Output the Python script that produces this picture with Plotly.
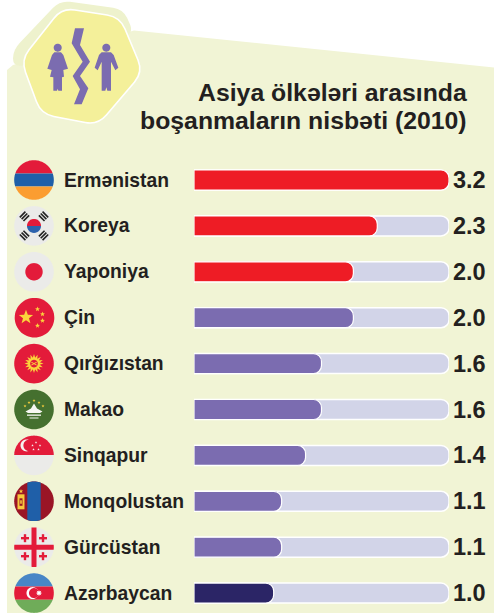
import math
import plotly.graph_objects as go

W, H = 502, 613
categories = ["Ermənistan", "Koreya", "Yaponiya", "Çin", "Qırğızıstan",
              "Makao", "Sinqapur", "Monqolustan", "Gürcüstan", "Azərbaycan"]
values = [3.2, 2.3, 2.0, 2.0, 1.6, 1.6, 1.4, 1.1, 1.1, 1.0]
labels = ["3.2", "2.3", "2.0", "2.0", "1.6", "1.6", "1.4", "1.1", "1.1", "1.0"]
track = [3.2] * 10
RED, PUR, NAVY = "#ee1c25", "#7b6cb0", "#2b2566"
bar_colors = [RED, RED, RED, PUR, PUR, PUR, PUR, PUR, PUR, NAVY]
title_lines = ["Asiya ölkələri arasında", "boşanmaların nisbəti (2010)"]

FIRST, STEP = 180.0, 45.9
FONT = "Liberation Sans"
INK = "#231f20"
shapes = []


def P(x, y):
    return f"{x/W:.5f},{1-y/H:.5f}"


def poly(pts, fill, line=None, lw=0):
    d = "M" + "L".join(P(*p) for p in pts) + "Z"
    shapes.append(dict(type="path", path=d, xref="paper", yref="paper", fillcolor=fill,
                       line=dict(color=line or fill, width=lw), layer="below"))


def rounded(pts, r, fill, line=None, lw=0):
    n = len(pts)
    d = ""
    for i in range(n):
        p0, p1, p2 = pts[i-1], pts[i], pts[(i+1) % n]
        def toward(a, b):
            L = math.dist(a, b)
            t = min(r / L, .5)
            return (a[0]+(b[0]-a[0])*t, a[1]+(b[1]-a[1])*t)
        a, b = toward(p1, p0), toward(p1, p2)
        d += ("M" if i == 0 else "L") + P(*a) + "Q" + P(*p1) + " " + P(*b)
    d += "Z"
    shapes.append(dict(type="path", path=d, xref="paper", yref="paper", fillcolor=fill,
                       line=dict(color=line or fill, width=lw), layer="below"))


def circle(cx, cy, r, fill):
    poly([(cx+r*math.cos(t*math.pi/30), cy+r*math.sin(t*math.pi/30)) for t in range(60)], fill)


def clip_band(cx, cy, r, a0, a1, fill, vertical=False):
    a0, a1 = max(a0, -r), min(a1, r)
    t0, t1 = math.asin(a0/r), math.asin(a1/r)
    N = 24
    right = [t0+(t1-t0)*i/N for i in range(N+1)]
    pts = [(r*math.cos(t), r*math.sin(t)) for t in right]
    pts += [(-r*math.cos(t), r*math.sin(t)) for t in reversed(right)]
    if vertical:
        pts = [(cx+b, cy+a) for a, b in pts]
    else:
        pts = [(cx+a, cy+b) for a, b in pts]
    poly(pts, fill)


def star(cx, cy, R, fill, n=5, rot=-90, ratio=.42):
    pts = []
    for i in range(2*n):
        rr = R if i % 2 == 0 else R*ratio
        t = math.radians(rot + i*180/n)
        pts.append((cx+rr*math.cos(t), cy+rr*math.sin(t)))
    poly(pts, fill)


def rect(x0, y0, x1, y1, fill):
    poly([(x0, y0), (x1, y0), (x1, y1), (x0, y1)], fill)


def rot_rect(cx, cy, w, h, ang, fill):
    c, s = math.cos(ang), math.sin(ang)
    pts = [(cx+a*c-b*s, cy+a*s+b*c) for a, b in
           [(-w/2, -h/2), (w/2, -h/2), (w/2, h/2), (-w/2, h/2)]]
    poly(pts, fill)


def z(pts):
    return [(x/3, y/3) for x, y in pts]


# panel
PANEL = "#f1f4d5"
poly([(7, 613), (7, 70), (13, 65), (134, 30.5), (494, 67.5), (494, 613)], PANEL)
# badge
rounded([(60, 0.5), (123, 9), (134, 33), (60, 60), (13, 67), (13, 50)], 10, "#eef2cd")
rounded([(62, 8), (120, 17), (143, 72), (98, 125), (41, 114), (21, 60)], 13, "#f4f09a", "#ffffff", 1.6)
purple = "#7b6cb0"
circle(57.7, 47.7, 4, purple)
poly(z([(163, 157), (183, 157), (190, 165), (204, 206), (190, 210), (192, 230), (186, 232), (186, 272), (175, 272),
        (173, 266), (171, 272), (160, 272), (160, 232), (150, 230), (155, 210), (142, 206), (156, 165)]), purple)
circle(106.3, 47.7, 4, purple)
poly(z([(305, 157), (333, 157), (341, 165), (355, 203), (346, 211), (333, 185), (333, 272), (322, 272), (319, 262),
        (316, 272), (305, 272), (305, 185), (293, 211), (284, 203), (297, 165)]), purple)
poly(z([(225, 85), (252, 85), (240, 135), (270, 185), (240, 228), (265, 265), (245, 313), (222, 313),
        (240, 268), (218, 228), (248, 185), (215, 130)]), purple)

# flags
CX, R = 34.0, 19.8
FR = "#e31b3a"
GREY = "#ebebe9"
cys = [FIRST + STEP*i for i in range(10)]

# Armenia
y = cys[0]
clip_band(CX, y, R, -R, -6.6, FR)
clip_band(CX, y, R, -6.6, 6.6, "#1f5fa8")
clip_band(CX, y, R, 6.6, R, "#fb9d31")

# Korea
y = cys[1]
circle(CX, y, R, GREY)
clip_band(CX, y, 7, -7, 0, FR)
clip_band(CX, y, 7, 0, 7, "#2d62ad")
for sx, sy in [(-1, -1), (1, -1), (-1, 1), (1, 1)]:
    ang = math.atan2(sy, sx) + math.pi/2
    for k in (-2.6, 0, 2.6):
        d = 13.5 + k
        rot_rect(CX+sx*d*.707, y+sy*d*.707, 8, 1.6, ang, "#222222")

# Japan
y = cys[2]
circle(CX, y, R, GREY)
circle(CX, y, 8.7, FR)

# China
y = cys[3]
circle(CX+.5, y, R, FR)
YEL = "#fbd43b"
star(CX-8, y-.5, 7.5, YEL)
for dx, dy in [(3.5, -8.5), (8.5, -3.5), (8.5, 3), (3.5, 8)]:
    star(CX+dx, y+dy, 2.6, YEL)

# Kyrgyzstan
y = cys[4]
circle(CX, y, R, FR)
for i in range(16):
    t = i*math.pi/8
    poly([(CX+9.5*math.cos(t), y+9.5*math.sin(t)),
          (CX+5*math.cos(t+.3), y+5*math.sin(t+.3)),
          (CX+5*math.cos(t-.3), y+5*math.sin(t-.3))], YEL)
circle(CX, y, 5.6, YEL)
circle(CX, y, 3.8, FR)
rot_rect(CX, y, 6, .9, .5, YEL)
rot_rect(CX, y, 6, .9, -.5, YEL)

# Macao
y = cys[5]
circle(CX, y, R, "#45702f")
for dx, dy in [(-9, -3.5), (-5, -7), (0, -9), (5, -7), (9, -3.5)]:
    star(CX+dx, y+dy, 1.6, "#f5cd3d")
poly([(CX, y-6), (CX+3, y-1), (CX+8.5, y+2), (CX+6, y+3.5), (CX-6, y+3.5), (CX-8.5, y+2), (CX-3, y-1)], "#f7f7f2")
rect(CX-7, y+5, CX+7, y+6.3, "#f7f7f2")
rect(CX-4.5, y+8, CX+4.5, y+9, "#f7f7f2")

# Singapore
y = cys[6]
circle(CX, y, R, GREY)
clip_band(CX, y, R, -R, -.5, FR)
circle(CX-7.5, y-10, 6, "#f6f1ef")
circle(CX-5, y-10, 5.6, FR)
for dx, dy in [(0, -14), (4, -11), (2.5, -7), (-2.5, -7), (-3.5, -11)]:
    star(CX+dx+2, y+dy+1, 1.3, "#f6f1ef")

# Mongolia
y = cys[7]
circle(CX, y, R, "#9a1526")
clip_band(CX, y, R, -6.7, 6.7, "#1f5fa8", vertical=True)
star(CX-13, y-10, 2.4, "#f7c93c")
rect(CX-16.5, y-7, CX-9.5, y+8, "#f7c93c")
rect(CX-14.5, y-3, CX-11.5, y+4.5, "#9a1526")
rect(CX-13.8, y-1, CX-12.2, y+2.5, "#f7c93c")

# Georgia
y = cys[8]
circle(CX, y, R, GREY)
clip_band(CX, y, R, -2.5, 2.5, FR)
clip_band(CX, y, R, -2.5, 2.5, FR, vertical=True)
for dx, dy in [(-9, -9), (9, -9), (-9, 9), (9, 9)]:
    rect(CX+dx-4, y+dy-1.2, CX+dx+4, y+dy+1.2, FR)
    rect(CX+dx-1.2, y+dy-4, CX+dx+1.2, y+dy+4, FR)

# Azerbaijan
y = cys[9]
clip_band(CX, y, R, -R, -6.6, "#4886c6")
clip_band(CX, y, R, -6.6, 6.6, FR)
clip_band(CX, y, R, 6.6, R, "#6fac59")
circle(CX-1.5, y, 6, "#ffffff")
circle(CX, y, 5, FR)
star(CX+5, y, 3.2, "#ffffff", n=8, ratio=.5)

fig = go.Figure()
fig.add_bar(y=categories, x=track, orientation="h", width=20/STEP,
            marker=dict(color="#d2d4e8", cornerradius=8, line=dict(color="#ffffff", width=1.5)),
            hoverinfo="skip")
fig.add_bar(y=categories, x=values, orientation="h", width=20/STEP, xaxis="x2", yaxis="y2",
            marker=dict(color=bar_colors, cornerradius=8, line=dict(color="#ffffff", width=1.2)))

ann = []
for cat, lab in zip(categories, labels):
    ann.append(dict(x=62/W, xref="paper", y=cat, yref="y", text=cat, showarrow=False, xanchor="left",
                    font=dict(family=FONT, size=19.3, color=INK)))
    ann.append(dict(x=450.5/W, xref="paper", y=cat, yref="y", text=lab, showarrow=False, xanchor="left",
                    font=dict(family=FONT, size=23.5, color=INK)))
for line, py in zip(title_lines, (92, 120)):
    ann.append(dict(x=469/W, xref="paper", y=1-py/H, yref="paper", text=line, showarrow=False,
                    xanchor="right", yanchor="middle", font=dict(family=FONT, size=24.8, color=INK)))
for a in ann:
    a["text"] = f"<b>{a['text']}</b>"

xdom = [194/W, 449/W]
yrange = [(H-FIRST)/STEP, -FIRST/STEP]
fig.update_layout(
    width=W, height=H, autosize=False, barmode="overlay", showlegend=False,
    paper_bgcolor="#ffffff", plot_bgcolor="rgba(0,0,0,0)",
    margin=dict(l=0, r=0, t=0, b=0), shapes=shapes, annotations=ann,
    xaxis=dict(domain=xdom, range=[0, 3.2], visible=False, fixedrange=True),
    yaxis=dict(type="category", categoryorder="array", categoryarray=categories,
               range=yrange, visible=False, fixedrange=True),
    xaxis2=dict(domain=xdom, range=[0, 3.2], visible=False, fixedrange=True, overlaying="x", anchor="y2"),
    yaxis2=dict(type="category", categoryorder="array", categoryarray=categories,
                range=yrange, visible=False, fixedrange=True, overlaying="y", anchor="x2"),
)
fig.write_html("out.html", config={"displayModeBar": False},
               post_script="document.body.style.margin='0';document.documentElement.style.overflow='hidden';")
